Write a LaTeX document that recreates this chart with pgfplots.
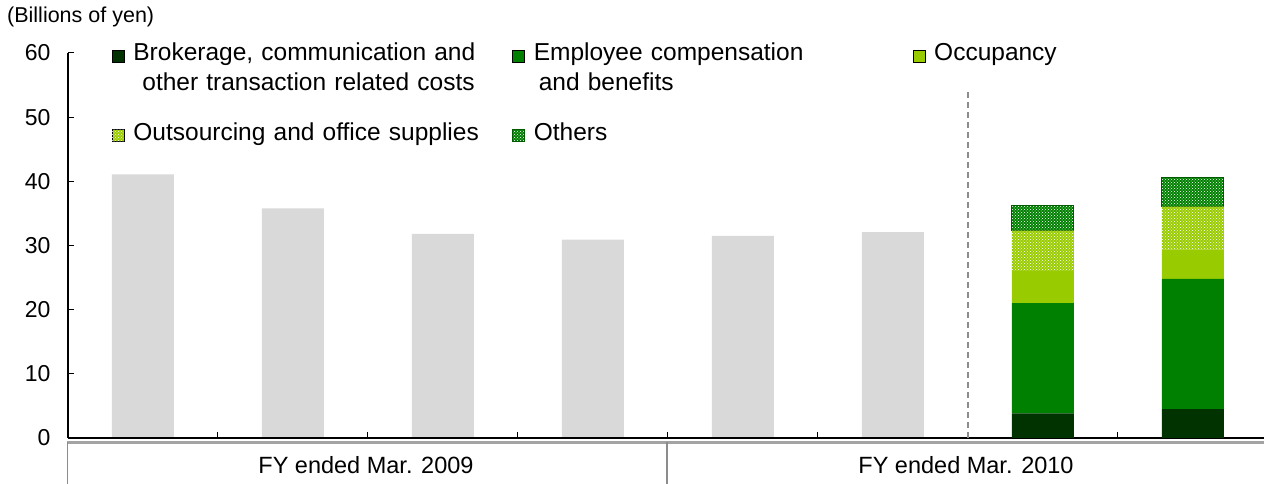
\documentclass[border=0pt]{standalone}
\usepackage{fontspec}
\setmainfont{Liberation Sans}
\usepackage{pgfplots}
\pgfplotsset{compat=1.18}
\usetikzlibrary{patterns,calc}
\definecolor{cdark}{HTML}{003300}
\definecolor{cgreen}{HTML}{008000}
\definecolor{clight}{HTML}{99CC00}
\definecolor{cgrey}{HTML}{D9D9D9}
\definecolor{cbox}{HTML}{8C8C8C}
\begin{document}
\begin{tikzpicture}[x=1pt,y=1pt]
% grey totals
\begin{axis}[
  at={(68pt,46pt)}, anchor=south west,
  width=1200pt, height=385pt, scale only axis,
  xmin=-0.5, xmax=7.5, ymin=0, ymax=60,
  hide axis, ybar, bar width=62pt,
]
\addplot[fill=cgrey, draw=none] coordinates {(0,41.1) (1,35.8) (2,31.8) (3,30.9) (4,31.5) (5,32.1)};
\end{axis}
% stacked breakdown
\begin{axis}[
  at={(68pt,46pt)}, anchor=south west,
  width=1200pt, height=385pt, scale only axis,
  xmin=-0.5, xmax=7.5, ymin=0, ymax=60,
  ybar stacked, bar width=62pt,
  axis x line*=bottom, axis y line*=left,
  xtick={-0.5,0.5,1.5,2.5,3.5,4.5,5.5,6.5,7.5}, xticklabels={},
  ytick={0,10,20,30,40,50,60},
  tick align=inside, major tick length=6pt,
  tick style={black, line width=1pt},
  axis line style={black, line width=1.3pt},
  yticklabel style={font=\fontsize{23}{23}\selectfont, xshift=-14pt},
  /pgf/number format/assume math mode=true,
  clip=false,
  legend columns=3,
  legend cell align=left,
  legend image code/.code={\draw[#1, line width=0.4pt] (0pt,-1pt) rectangle (12pt,11pt);},
  legend style={draw=none, fill=none, inner sep=0pt, outer sep=0pt,
    at={(rel axis cs:0,1)}, anchor=north west, xshift=44pt, yshift=10pt,
    row sep=60pt,
    /tikz/every odd column/.style={column sep=9pt},
    /tikz/every even column/.style={column sep=0pt},
    nodes={font=\fontsize{24.5}{30}\selectfont, text width=379pt, align=left, inner sep=0pt, anchor=base west},
  },
]
\addplot[fill=cdark, draw=none] coordinates {(6,3.85) (7,4.5)};
\addlegendentry{Brokerage, communication and\\\hspace*{9pt}other transaction related costs}
\addplot[fill=cgreen, draw=none] coordinates {(6,17.15) (7,20.3)};
\addlegendentry{Employee compensation\\\hspace*{5pt}and benefits}
\addplot[fill=clight, draw=none] coordinates {(6,5.0) (7,4.6)};
\addlegendentry{Occupancy}
\addplot[fill=clight, draw=none, postaction={pattern=crosshatch dots, pattern color=white}] coordinates {(6,6.3) (7,6.65)};
\addlegendentry{Outsourcing and office supplies}
\addplot[fill=cgreen, draw=cgreen!70!black, line width=1pt, postaction={pattern=crosshatch dots, pattern color=white}] coordinates {(6,3.9) (7,4.55)};
\addlegendentry{Others}
\draw[cbox, line width=1.2pt, dash pattern=on 6pt off 4pt] (axis cs:5.5,0) -- (axis cs:5.5,53.9);
\end{axis}
% category boxes
\draw[cbox!80, line width=2.5pt] (67,41.5) -- (1264,41.5);
\draw[cbox, line width=1.3pt] (67.6,0) -- (67.6,42);
\draw[cbox, line width=1.3pt] (667,0) -- (667,42);
\node[font=\fontsize{23.5}{24}\selectfont] at (366,19) {FY ended Mar. 2009};
\node[font=\fontsize{23.5}{24}\selectfont] at (966,19) {FY ended Mar. 2010};
\node[font=\fontsize{21.5}{22}\selectfont, anchor=west, inner sep=0pt] at (7,467) {(Billions of yen)};
\pgfresetboundingbox
\useasboundingbox (0,0) rectangle (1264,484);
\end{tikzpicture}
\end{document}
